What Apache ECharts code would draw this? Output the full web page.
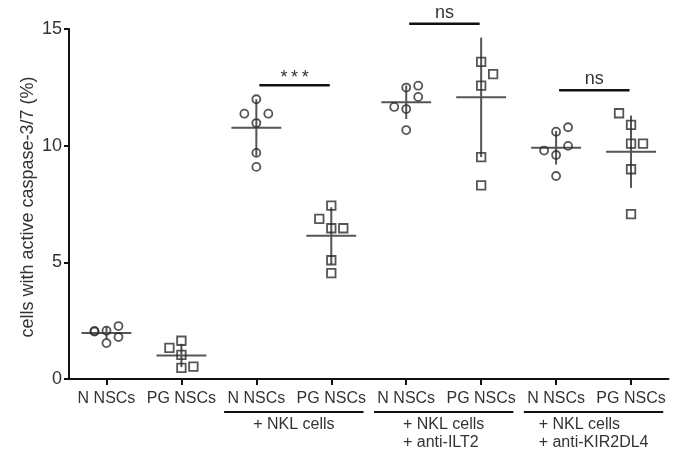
<!DOCTYPE html>
<html>
<head>
<meta charset="utf-8" />
<title>caspase-3/7</title>
<script src="https://cdn.jsdelivr.net/npm/echarts@6/dist/echarts.min.js"></script>
<style>
  html, body { margin: 0; padding: 0; background: #fff; }
  #main { width: 678px; height: 457px; }
</style>
</head>
<body>
<div id="main"></div>
<script>
// x categories
const categories = ['N NSCs', 'PG NSCs', 'N NSCs', 'PG NSCs', 'N NSCs', 'PG NSCs', 'N NSCs', 'PG NSCs'];

// individual values (%) for each column
const nNsc    = [2.06, 2.03, 2.07, 1.54, 2.27, 1.80];
const pgNsc   = [1.33, 1.64, 1.03, 0.48, 0.53];
const nNkl    = [11.99, 11.37, 11.37, 10.97, 9.69, 9.09];
const pgNkl   = [7.43, 6.86, 6.46, 6.46, 5.09, 4.54];
const nIlt2   = [12.49, 12.57, 12.09, 11.66, 11.57, 10.67];
const pgIlt2  = [13.59, 13.07, 12.57, 9.51, 8.30];
const nKir    = [10.60, 10.79, 9.99, 9.79, 9.60, 8.70];
const pgKir   = [11.39, 10.89, 10.09, 10.09, 8.99, 7.07];

// which side of the column each point sits on (-1 left, 0 middle, 1 right)
const nNscSide   = [-1, -1, 0, 0, 1, 1];
const pgNscSide  = [-1, 0, 0, 0, 1];
const nNklSide   = [0, -1, 1, 0, 0, 0];
const pgNklSide  = [0, -1, 0, 1, 0, 0];
const nIlt2Side  = [0, 1, 1, -1, 0, 0];
const pgIlt2Side = [0, 1, 0, 0, 0];
const nKirSide   = [0, 1, 1, -1, 0, 0];
const pgKirSide  = [-1, 0, 0, 1, 0, 0];

// mean and SD per column
const means = [1.97, 1.01, 10.77, 6.14, 11.86, 12.07, 9.91, 9.74];
const sds   = [0.26, 0.50, 1.22, 1.22, 0.72, 2.56, 0.72, 1.55];

// significance brackets: [first column, second column, height, mark]
const sigPairs = [[2, 3, 12.59, '***'], [4, 5, 15.23, 'ns'], [6, 7, 12.37, 'ns']];

// condition groups under the axis
const groupCols   = [[2, 3], [4, 5], [6, 7]];
const groupLabels = ['+ NKL cells', '+ NKL cells\n+ anti-ILT2', '+ NKL cells\n+ anti-KIR2DL4'];

const yTicks = [0, 5, 10, 15];
const yTitle = 'cells with active caspase-3/7 (%)';

const circleSets = [[0, nNsc, nNscSide], [2, nNkl, nNklSide], [4, nIlt2, nIlt2Side], [6, nKir, nKirSide]];
const squareSets = [[1, pgNsc, pgNscSide], [3, pgNkl, pgNklSide], [5, pgIlt2, pgIlt2Side], [7, pgKir, pgKirSide]];

const JIT = 0.16;
function toPoints(sets) {
  let out = [];
  sets.forEach(function (s) {
    s[1].forEach(function (v, i) { out.push([s[0] + s[2][i] * JIT, v]); });
  });
  return out;
}

const FONT = 'Liberation Sans, Arial, Helvetica, sans-serif';
const measureCtx = document.createElement('canvas').getContext('2d');
measureCtx.font = '16px ' + FONT;
function textW(s) {
  return Math.max.apply(null, s.split('\n').map(function (l) { return measureCtx.measureText(l).width; }));
}

const chart = echarts.init(document.getElementById('main'));

const option = {
  backgroundColor: '#fff',
  animation: false,
  grid: { left: 69, right: 9.5, top: 29, bottom: 78, containLabel: false, outerBoundsMode: 'none' },
  graphic: [{
    type: 'text',
    x: 28,
    y: 207,
    rotation: Math.PI / 2,
    style: { text: yTitle, align: 'center', verticalAlign: 'middle', fontSize: 18, fontFamily: FONT, fill: '#333' }
  }],
  xAxis: [{
    type: 'category',
    data: categories,
    boundaryGap: true,
    axisLine: { show: true, onZero: false, lineStyle: { color: '#111', width: 2 } },
    axisTick: { show: true, alignWithLabel: true, length: 6, lineStyle: { color: '#111', width: 2 } },
    axisLabel: { interval: 0, margin: 12, fontSize: 16, color: '#333', fontFamily: FONT },
    splitLine: { show: false }
  }, {
    type: 'value',
    min: -0.5,
    max: 7.5,
    show: false
  }],
  yAxis: {
    type: 'value',
    min: yTicks[0],
    max: yTicks[yTicks.length - 1],
    interval: 5,
    axisLine: { show: true, onZero: false, lineStyle: { color: '#111', width: 2 } },
    axisTick: { show: true, length: 5, lineStyle: { color: '#111', width: 2 } },
    axisLabel: { margin: 7, fontSize: 18, color: '#333', fontFamily: FONT },
    splitLine: { show: false }
  },
  series: [
    {
      // mean line + SD bar
      type: 'custom',
      xAxisIndex: 1,
      data: means.map(function (m, i) { return [i, m, sds[i]]; }),
      renderItem: function (params, api) {
        const x = api.value(0), m = api.value(1), s = api.value(2);
        const l = api.coord([x - 0.333, m]), r = api.coord([x + 0.333, m]);
        const t = api.coord([x, m + s]), b = api.coord([x, m - s]);
        const st = { stroke: '#555', lineWidth: 2 };
        return {
          type: 'group',
          children: [
            { type: 'line', shape: { x1: l[0], y1: l[1], x2: r[0], y2: r[1] }, style: st },
            { type: 'line', shape: { x1: t[0], y1: t[1], x2: b[0], y2: b[1] }, style: st }
          ]
        };
      },
      z: 2
    },
    {
      type: 'scatter',
      xAxisIndex: 1,
      symbol: 'circle',
      symbolSize: 8,
      itemStyle: { color: 'rgba(0,0,0,0)', borderColor: '#2a2a2a', borderWidth: 1.8 },
      data: toPoints(circleSets),
      z: 3
    },
    {
      type: 'scatter',
      xAxisIndex: 1,
      symbol: 'rect',
      symbolSize: 8.5,
      itemStyle: { color: 'rgba(0,0,0,0)', borderColor: '#2a2a2a', borderWidth: 1.8 },
      data: toPoints(squareSets),
      z: 3
    },
    {
      // significance brackets
      type: 'custom',
      xAxisIndex: 1,
      clip: false,
      data: sigPairs,
      renderItem: function (params, api) {
        const p = sigPairs[params.dataIndex];
        const a = api.coord([p[0] + 0.04, p[2]]), b = api.coord([p[1] - 0.02, p[2]]);
        const star = p[3] === '***';
        return {
          type: 'group',
          children: [
            { type: 'line', shape: { x1: a[0], y1: a[1], x2: b[0], y2: b[1] }, style: { stroke: '#111', lineWidth: 2.5 } },
            { type: 'text', x: (a[0] + b[0]) / 2, y: a[1] + (star ? 2 : -2),
              style: { text: star ? '*\u2009*\u2009*' : p[3], align: 'center', verticalAlign: 'bottom',
                       fontSize: 18, fontFamily: FONT, fill: '#333' } }
          ]
        };
      }
    },
    {
      // condition groups below the axis
      type: 'custom',
      xAxisIndex: 1,
      clip: false,
      data: groupCols,
      renderItem: function (params, api) {
        const c = groupCols[params.dataIndex];
        const label = groupLabels[params.dataIndex];
        const a = api.coord([c[0] - 0.43, 0]), b = api.coord([c[1] + 0.43, 0]);
        const ly = a[1] + 33;
        const mid = (a[0] + b[0]) / 2;
        return {
          type: 'group',
          children: [
            { type: 'line', shape: { x1: a[0], y1: ly, x2: b[0], y2: ly }, style: { stroke: '#111', lineWidth: 2 } },
            { type: 'text', x: mid - textW(label) / 2, y: ly + 4,
              style: { text: label, align: 'left', verticalAlign: 'top', fontSize: 16,
                       lineHeight: 18, fontFamily: FONT, fill: '#333' } }
          ]
        };
      }
    }
  ]
};

chart.setOption(option);
window.onresize = function () { chart.resize(); };
</script>
</body>
</html>
